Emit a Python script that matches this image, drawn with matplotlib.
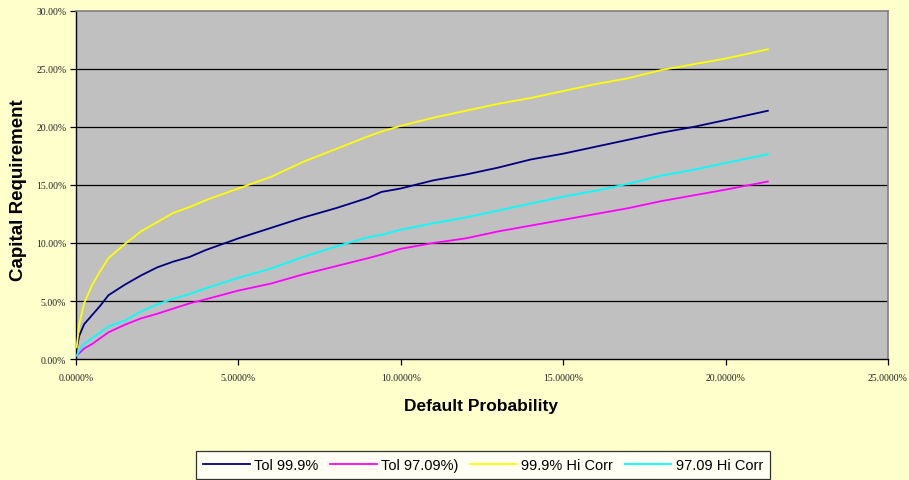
import matplotlib
matplotlib.use("Agg")
import matplotlib.pyplot as plt
from matplotlib.ticker import FuncFormatter, MultipleLocator

# Default probability (%) and capital requirement (%) for each scenario
default_prob = [0.02, 0.1, 0.25, 0.5, 0.75, 1.0, 1.5, 2.0, 2.5, 3.0, 3.5, 4.0,
                5.0, 6.0, 7.0, 8.0, 9.0, 9.4, 10.0, 11.0, 12.0, 13.0, 14.0,
                15.0, 16.0, 17.0, 18.0, 19.0, 20.0, 21.3]

tol_999 = [0.9, 2.0, 3.0, 3.8, 4.6, 5.5, 6.4, 7.2, 7.9, 8.4, 8.8, 9.4,
           10.4, 11.3, 12.2, 13.0, 13.9, 14.4, 14.7, 15.4, 15.9, 16.5, 17.2,
           17.7, 18.3, 18.9, 19.5, 20.0, 20.6, 21.4]

tol_9709 = [0.3, 0.5, 0.9, 1.3, 1.8, 2.3, 2.95, 3.5, 3.9, 4.35, 4.8, 5.15,
            5.9, 6.5, 7.3, 8.0, 8.7, 9.0, 9.5, 10.0, 10.4, 11.0, 11.5,
            12.0, 12.5, 13.0, 13.6, 14.1, 14.6, 15.3]

hi_corr_999 = [1.0, 3.0, 4.8, 6.4, 7.6, 8.7, 9.9, 11.0, 11.8, 12.6, 13.1, 13.7,
               14.7, 15.7, 17.0, 18.1, 19.2, 19.6, 20.1, 20.8, 21.4, 22.0, 22.5,
               23.1, 23.7, 24.2, 24.9, 25.4, 25.9, 26.7]

hi_corr_9709 = [0.3, 0.7, 1.3, 1.8, 2.3, 2.8, 3.3, 4.1, 4.7, 5.2, 5.6, 6.1,
                7.0, 7.8, 8.8, 9.7, 10.5, 10.7, 11.15, 11.7, 12.2, 12.8, 13.4,
                14.0, 14.5, 15.1, 15.8, 16.3, 16.9, 17.65]

series_labels = ["Tol 99.9%", "Tol 97.09%)", "99.9% Hi Corr", "97.09 Hi Corr"]
series_colors = ["#000080", "#FF00FF", "#FFFF00", "#00FFFF"]

W, H = 909, 481
fig = plt.figure(figsize=(W / 100, H / 100), dpi=100, facecolor="#FFFFCC")
ax = fig.add_axes([76 / W, 1 - 360 / H, (888 - 76) / W, (360 - 12) / H])
ax.set_facecolor("#C0C0C0")

for ys, lab, col in zip([tol_999, tol_9709, hi_corr_999, hi_corr_9709],
                        series_labels, series_colors):
    ax.plot(default_prob, ys, color=col, lw=1.3, label=lab, zorder=3)

ax.set_xlim(0, 25)
ax.set_ylim(0, 30)
ax.xaxis.set_major_locator(MultipleLocator(5))
ax.yaxis.set_major_locator(MultipleLocator(5))
ax.xaxis.set_major_formatter(FuncFormatter(lambda v, p: f"{v:.4f}%"))
ax.yaxis.set_major_formatter(FuncFormatter(lambda v, p: f"{v:.2f}%"))

for y in range(5, 30, 5):
    ax.axhline(y, color="#000000", lw=0.9, zorder=1)

ax.tick_params(axis="both", direction="out", length=4, width=0.9,
               color="black", labelsize=7, labelcolor="#222222")
ax.tick_params(axis="x", pad=6)
ax.tick_params(axis="y", pad=3)
for lbl in ax.get_xticklabels() + ax.get_yticklabels():
    lbl.set_fontfamily("Liberation Serif")

ax.spines["left"].set_color("black")
ax.spines["bottom"].set_color("black")
ax.spines["left"].set_linewidth(1.0)
ax.spines["bottom"].set_linewidth(1.0)
ax.spines["top"].set_color("#808080")
ax.spines["right"].set_color("#808080")
ax.spines["top"].set_linewidth(1.2)
ax.spines["right"].set_linewidth(1.2)

fig.text(18.5 / W, 1 - 190 / H, "Capital Requirement", rotation=90,
         ha="center", va="center", fontsize=13.5, fontweight="bold",
         family="Liberation Sans")
fig.text(481 / W, 1 - 406 / H, "Default Probability", ha="center",
         va="center", fontsize=12.5, fontweight="bold", family="Liberation Sans")

leg = fig.legend(loc="center", bbox_to_anchor=(483 / W, 1 - 466 / H),
                 ncol=4, frameon=True, fancybox=False, edgecolor="black",
                 facecolor="white", prop={"family": "Liberation Sans", "size": 10.5},
                 handlelength=3.2, handletextpad=0.3, columnspacing=0.8,
                 borderpad=0.45, borderaxespad=0)
leg.get_frame().set_linewidth(0.9)

fig.savefig("out.png", dpi=100, facecolor=fig.get_facecolor())
